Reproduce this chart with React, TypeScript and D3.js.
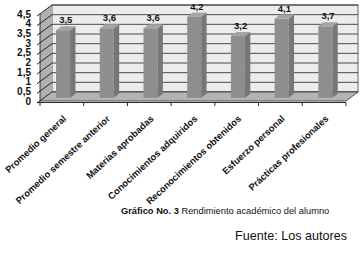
import React from "react";
import * as d3 from "d3";

const categories = [
  "Promedio general",
  "Promedio semestre anterior",
  "Materias aprobadas",
  "Conocimientos adquiridos",
  "Reconocimientos obtenidos",
  "Esfuerzo personal",
  "Prácticas profesionales",
];
const values = [3.5, 3.6, 3.6, 4.2, 3.2, 4.1, 3.7];
const yTicks = [0, 0.5, 1, 1.5, 2, 2.5, 3, 3.5, 4, 4.5];
const caption = ["Gráfico No. 3", " Rendimiento académico del alumno"];
const source = "Fuente: Los autores";

const FONT = "'Liberation Sans', Arial, sans-serif";

export default function App() {
  const W = 362, H = 256;
  const x0 = 40, x1 = 346;
  const yFront0 = 101;
  const DX = 12, DY = -9;
  const y = d3.scaleLinear().domain([0, 4.5]).range([yFront0, yFront0 - 87]);
  const x = d3.scaleBand<string>().domain(categories).range([x0, x1]);
  const fmt = (v: number) => String(v).replace(".", ",");

  const f1 = 0.35, f2 = 0.8;
  const bw = 14;

  const pts = (a: number[][]) => a.map((p) => p.join(",")).join(" ");

  return (
    <svg width={W} height={H} style={{ position: "absolute", left: 0, top: 0 }}>
      <rect width={W} height={H} fill="#fff" />
      <rect x={x0 + DX} y={y(4.5) + DY} width={x1 - x0} height={y(0) - y(4.5)} fill="#ececec" stroke="#444" strokeWidth={0.8} />
      <polygon
        points={pts([[x0, y(0)], [x0, y(4.5)], [x0 + DX, y(4.5) + DY], [x0 + DX, y(0) + DY]])}
        fill="#b0b0b0"
      />
      {yTicks.map((t) => (
        <g key={t}>
          <line x1={x0 + DX} x2={x1 + DX} y1={y(t) + DY} y2={y(t) + DY} stroke="#222" strokeWidth={0.8} />
          <line x1={x0 - 3} x2={x0 + DX} y1={y(t) + 2} y2={y(t) + DY} stroke="#111" strokeWidth={0.9} />
          <text x={31} y={y(t) + 3.5} textAnchor="end" fontFamily={FONT} fontWeight="bold" fontSize={10} fill="#111">
            {fmt(t)}
          </text>
        </g>
      ))}
      <polygon
        points={pts([[x0, y(0)], [x1, y(0)], [x1 + DX, y(0) + DY], [x0 + DX, y(0) + DY]])}
        fill="#b4b4b4"
        stroke="#333"
        strokeWidth={0.8}
      />
      <line x1={x0} x2={x0} y1={y(0)} y2={y(4.5)} stroke="#111" strokeWidth={0.8} />
      <line x1={x0 - 3} x2={x1} y1={y(0) + 1.5} y2={y(0) + 1.5} stroke="#111" strokeWidth={0.9} />
      {categories.map((c, i) => {
        const tx = x(c)!;
        return <line key={"t" + i} x1={tx} x2={tx} y1={y(0) + 1.5} y2={y(0) + 5} stroke="#111" strokeWidth={0.9} />;
      })}
      <line x1={x1} x2={x1} y1={y(0) + 1.5} y2={y(0) + 5} stroke="#111" strokeWidth={0.9} />
      {categories.map((c, i) => {
        const v = values[i];
        const cx = x(c)! + x.bandwidth() / 2;
        const fx = cx - bw / 2 + DX * f1 - 3;
        const fyb = y(0) + DY * f1;
        const fyt = y(v) + DY * f1;
        const sdx = DX * (f2 - f1), sdy = DY * (f2 - f1);
        return (
          <g key={c}>
            <rect x={fx} y={fyt} width={bw} height={fyb - fyt} fill="#8e8e8e" />
            <polygon points={pts([[fx + bw, fyt], [fx + bw + sdx, fyt + sdy], [fx + bw + sdx, fyb + sdy], [fx + bw, fyb]])} fill="#777" />
            <polygon points={pts([[fx, fyt], [fx + sdx, fyt + sdy], [fx + bw + sdx, fyt + sdy], [fx + bw, fyt]])} fill="#a5a5a5" />
            <text x={fx + (bw + sdx) / 2} y={fyt + sdy - 3} textAnchor="middle" fontFamily={FONT} fontWeight="bold" fontSize={9.5} fill="#111">
              {fmt(v)}
            </text>
            <text
              transform={`translate(${cx + 5},${y(0) + 18.5}) rotate(-43)`}
              textAnchor="end"
              fontFamily={FONT}
              fontWeight="bold"
              fontSize={9.4}
              fill="#111"
            >
              {c}
            </text>
          </g>
        );
      })}
      <text x={121} y={214} fontFamily={FONT} fontSize={9.3} fill="#111">
        <tspan fontWeight="bold">{caption[0]}</tspan>
        <tspan>{caption[1]}</tspan>
      </text>
      <text x={347} y={240} textAnchor="end" fontFamily={FONT} fontSize={12.6} fill="#111">
        {source}
      </text>
    </svg>
  );
}
